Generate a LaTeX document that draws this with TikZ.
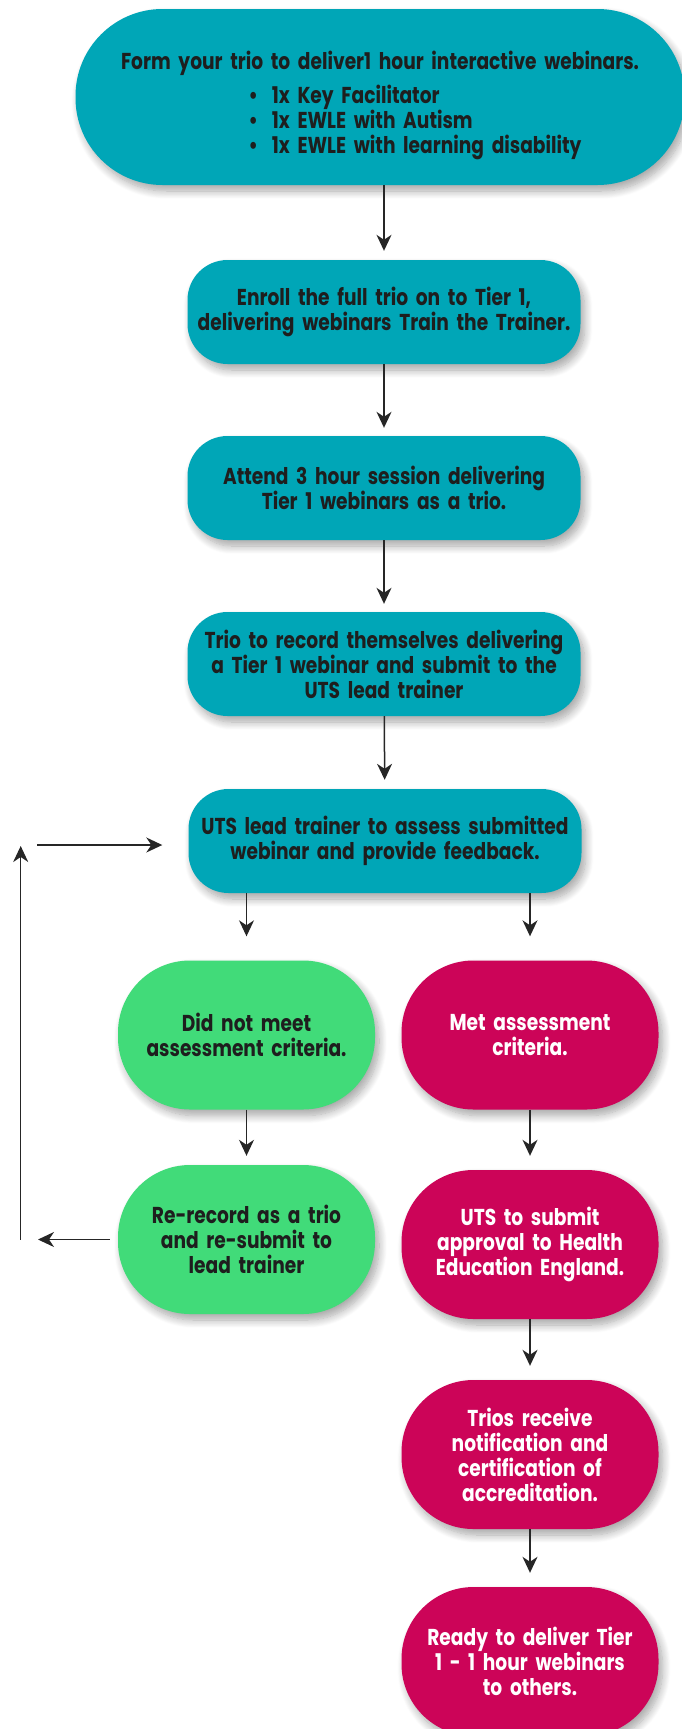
\documentclass[tikz,border=0pt]{standalone}
\usepackage{fontspec}
\setmainfont{Poppins}[FakeStretch=0.81]
\usepackage{xcolor}
\usetikzlibrary{shadows,shadows.blur,arrows.meta,positioning}
\definecolor{mteal}{HTML}{00A6B7}
\definecolor{mgreen}{HTML}{41DB79}
\definecolor{mpink}{HTML}{CC0458}
\definecolor{mtext}{HTML}{1E1E1E}
\tikzstyle{l2}=[line width=1.5pt]
\tikzstyle{conn}=[l2, draw=black!85, shorten >=8pt, -{Stealth[length=16pt,width=15pt,inset=5pt]}]
\tikzstyle{box}=[rectangle, rounded corners=40pt, minimum width=393pt, minimum height=104pt, text width=385pt, inner sep=0pt, align=center, fill=mteal, text=mtext, font=\bfseries\fontsize{23}{25}\selectfont, blur shadow={shadow xshift=4pt, shadow yshift=-6pt, shadow blur steps=10, shadow blur radius=8pt, shadow opacity=35}]
\tikzstyle{pill}=[box, rounded corners=72pt, minimum width=257pt, minimum height=149pt, text width=250pt]

\begin{document}
\begin{tikzpicture}[x=1pt, y=-1pt]
    \useasboundingbox (0,0) rectangle (681,1729);
    % main column
    \node[box, minimum width=609pt, minimum height=176pt, rounded corners=87pt, text width=600pt] at (380,97) (form) {\rule{0pt}{36pt}Form your trio to deliver1 hour interactive webinars.\\[9pt]
        \hspace*{70pt}\begin{tabular}[t]{@{}l@{}}
        \textbullet\hspace{14pt}1x Key Facilitator\\[-1pt]
        \textbullet\hspace{14pt}1x EWLE with Autism\\[-1pt]
        \textbullet\hspace{14pt}1x EWLE with learning disability
        \end{tabular}};
    \node[box] at (384,312) (enroll) {Enroll the full trio on to Tier 1,\\ delivering webinars Train the Trainer.};
    \node[box] at (384,488) (attend) {Attend 3 hour session delivering\\ Tier 1 webinars as a trio.};
    \node[box] at (384,664) (record) {Trio to record themselves delivering\\ a Tier 1 webinar and submit to the\\ UTS lead trainer};
    \node[box] at (385,841) (assess) {UTS lead trainer to assess submitted\\ webinar and provide feedback.};

    % two branches
    \node[pill, fill=mgreen] at (246.5,1035) (notmet) {Did not meet\\ assessment criteria.};
    \node[pill, fill=mpink, text=white] at (530,1035) (met) {Met assessment\\ criteria.};
    \node[pill, fill=mgreen] at (246.5,1239.5) (rerecord) {Re-record as a trio\\ and re-submit to\\ lead trainer};
    \node[pill, fill=mpink, text=white] at (530,1244.5) (submit) {UTS to submit\\ approval to Health\\ Education England.};
    \node[pill, fill=mpink, text=white] at (530,1454.5) (trios) {Trios receive\\ notification and\\ certification of\\ accreditation.};
    \node[pill, fill=mpink, text=white] at (530,1661.5) (ready) {Ready to deliver Tier\\ 1 - 1 hour webinars\\ to others.};

    \draw[conn, shorten >=9pt] (form.south -| enroll) -- (enroll);
    \draw[conn] (enroll) -- (attend);
    \draw[conn] (attend) -- (record);
    \draw[conn, shorten >=9pt] (record) -- (assess);
    \draw[conn, shorten >=24pt] (assess.south -| notmet) -- (notmet);
    \draw[conn, shorten >=24pt] (assess.south -| met) -- (met);
    \draw[conn, shorten >=9pt] (notmet) -- (rerecord);
    \draw[conn, shorten >=14pt] (met) -- (submit);
    \draw[conn, shorten >=14pt] (submit) -- (trios);
    \draw[conn, shorten >=14pt] (trios) -- (ready);

    % feedback loop
    \coordinate (loopa) at (38,1239.5);
    \coordinate (loopb) at (20.7,1239.5);
    \coordinate (loopc) at (20.7,846);
    \coordinate (loopd) at (37,845);
    \draw[conn, shorten <=8pt, shorten >=0pt] (rerecord) -- (loopa);
    \draw[conn, shorten >=0pt] (loopb) -- (loopc);
    \draw[conn, shorten >=26pt] (loopd) -- (loopd -| assess.west);
\end{tikzpicture}
\end{document}
